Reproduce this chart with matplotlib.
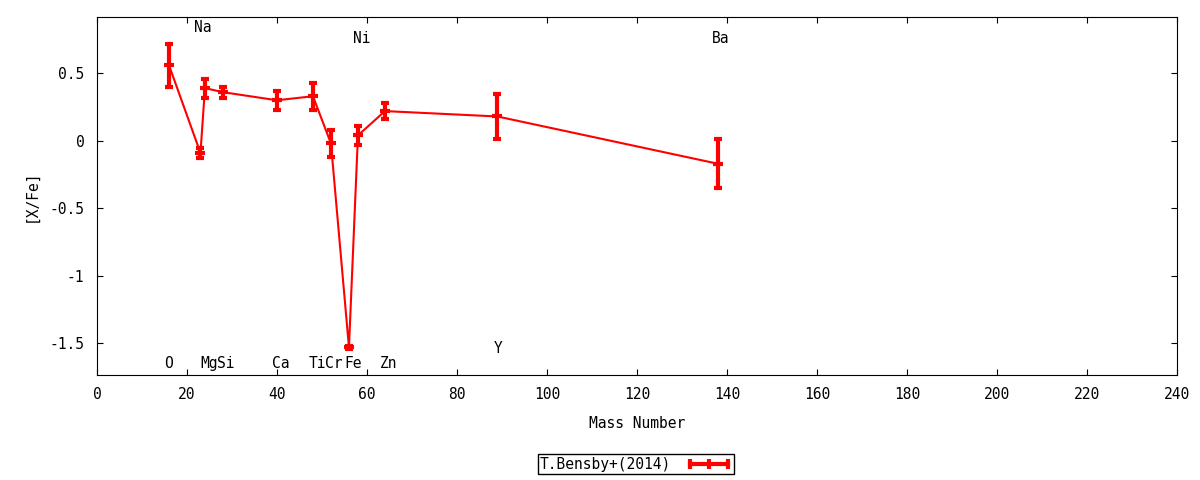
import numpy as np
import matplotlib
matplotlib.use("Agg")
import matplotlib.pyplot as plt
from matplotlib.lines import Line2D

plt.rcParams['font.family'] = ['DejaVu Sans Mono']

# Daten: Massenzahl, [X/Fe], Fehler
elemente = ["O", "Na", "Mg", "Si", "Ca", "Ti", "Cr", "Fe", "Ni", "Zn", "Y", "Ba"]
masse = [16, 23, 24, 28, 40, 48, 52, 56, 58, 64, 89, 138]
xfe = [0.56, -0.09, 0.39, 0.36, 0.30, 0.33, -0.02, -1.53, 0.04, 0.22, 0.18, -0.17]
fehler = [0.16, 0.04, 0.07, 0.04, 0.07, 0.10, 0.10, 0.01, 0.07, 0.06, 0.17, 0.18]

# Position der Elementnamen
label_x = [15.8, 23.6, 24.9, 28.7, 40.8, 48.9, 52.7, 56.9, 58.9, 64.9, 89.1, 138.7]
label_y = [-1.65, 0.84, -1.65, -1.65, -1.65, -1.65, -1.65, -1.65, 0.76, -1.65, -1.54, 0.76]

fig = plt.figure(figsize=(12, 4.8), dpi=100)
ax = fig.add_axes([0.0808, 0.219, 0.9, 0.746])

ax.errorbar(masse, xfe, yerr=fehler, color="red", lw=1.5, elinewidth=3,
            capsize=3, capthick=3, marker="_", ms=7, mew=3)

for name, lx, ly in zip(elemente, label_x, label_y):
    ax.text(lx, ly, name, ha="center", va="center", fontsize=10.5)

ax.set_xlim(0, 240)
ax.set_ylim(-1.733, 0.918)
ax.set_xticks(np.arange(0, 241, 20))
ax.set_yticks([-1.5, -1, -0.5, 0, 0.5])
ax.set_yticklabels(["-1.5", "-1", "-0.5", "0", "0.5"])
ax.tick_params(direction="in", top=True, right=True, length=4, labelsize=10.5)
ax.tick_params(axis="x", pad=9)
ax.tick_params(axis="y", pad=9)
ax.set_xlabel("Mass Number", fontsize=10.5, labelpad=10)
ax.set_ylabel("[X/Fe]", fontsize=10.5, labelpad=8)

# Legende wie bei gnuplot: Text links, Symbol rechts
griff = Line2D([], [], color="red", lw=3, marker="|", ms=7, mew=3)
leg = fig.legend([griff], ["T.Bensby+(2014)"], loc="center",
                 bbox_to_anchor=(0.53, 0.033), markerfirst=False, numpoints=3,
                 fancybox=False, framealpha=1, edgecolor="black", fontsize=10.5,
                 handlelength=3.2, handletextpad=1.0, borderpad=0.15,
                 borderaxespad=0)
leg.get_frame().set_linewidth(1)

fig.savefig("out.png", dpi=100)
